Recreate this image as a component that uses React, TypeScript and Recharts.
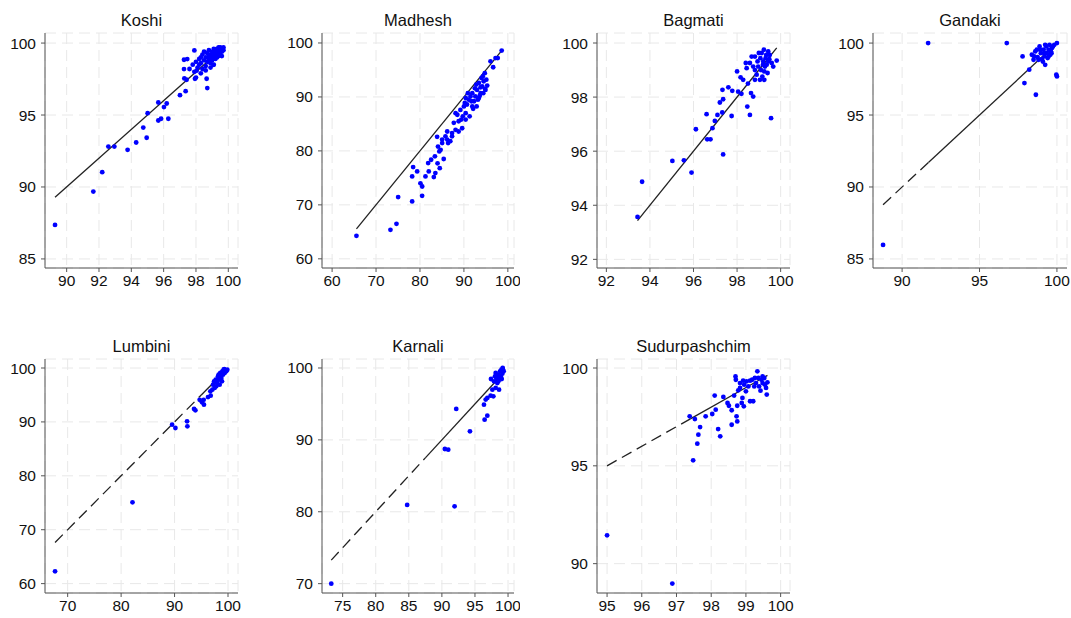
import React from "react";
import {
  ScatterChart,
  Scatter,
  XAxis,
  YAxis,
  CartesianGrid,
  ReferenceLine,
} from "recharts";

// [x, y] pairs
const koshi: number[][] = [
  [89.28, 87.36], [91.65, 89.68], [92.2, 91.03], [92.58, 92.81], [92.95, 92.81],
  [93.77, 92.58], [94.3, 93.09], [94.74, 94.13], [94.95, 93.42], [95.01, 95.13],
  [95.67, 95.87], [95.67, 94.62], [95.84, 94.74], [96.02, 95.55], [96.19, 95.8],
  [96.29, 94.74], [97.01, 96.38], [97.36, 96.66], [97.28, 97.54], [97.26, 98.19],
  [97.26, 98.84], [97.46, 98.89], [97.42, 97.45], [97.94, 97.52], [97.9, 99.49],
  [98.04, 98.08], [98.66, 97.52], [98.7, 96.87], [99.07, 98.49],
  [97.6, 98.2], [97.8, 98.5], [97.9, 98.0], [98.0, 98.7], [98.1, 98.3],
  [98.2, 98.9], [98.2, 98.5], [98.3, 99.0], [98.3, 98.6], [98.4, 98.2],
  [98.4, 99.2], [98.5, 98.8], [98.5, 99.4], [98.6, 98.4], [98.6, 99.0],
  [98.7, 98.7], [98.7, 99.3], [98.8, 99.1], [98.8, 98.9], [98.8, 99.5],
  [98.9, 98.6], [98.9, 99.2], [99.0, 99.0], [99.0, 99.4], [99.0, 98.8],
  [99.1, 99.3], [99.1, 99.6], [99.1, 99.1], [99.2, 98.9], [99.2, 99.2],
  [99.2, 99.5], [99.3, 99.3], [99.3, 99.0], [99.3, 99.6], [99.4, 99.4],
  [99.4, 99.1], [99.4, 99.7], [99.5, 99.5], [99.5, 99.2], [99.5, 99.7],
  [99.6, 99.4], [99.6, 99.6], [99.6, 99.1], [99.7, 99.5], [99.7, 99.7],
  [99.1, 98.5], [98.9, 98.3], [98.6, 98.1], [98.3, 97.9], [98.0, 97.6],
];

const madhesh: number[][] = [
  [65.54, 64.26], [73.28, 65.38], [74.65, 66.49], [75.03, 71.44], [78.22, 70.63],
  [78.22, 75.27], [78.44, 77.0], [79.35, 76.2], [80.49, 71.68], [80.1, 74.0],
  [80.5, 73.4], [81.25, 75.27], [82.0, 76.2], [81.86, 77.74], [82.54, 78.36],
  [83.15, 75.15], [83.5, 75.9], [83.4, 79.0], [84.0, 77.7], [84.1, 80.8],
  [83.9, 82.6], [84.5, 76.8], [84.7, 80.2], [85.05, 81.45], [85.4, 78.5],
  [85.8, 82.7], [86.2, 83.6], [86.4, 81.45], [86.9, 81.8], [87.3, 83.3],
  [87.7, 85.2], [88.1, 83.9], [88.5, 86.7], [88.8, 83.6], [88.8, 85.5],
  [89.2, 87.6], [89.6, 84.2], [89.75, 86.4], [90.0, 88.25], [90.4, 87.0],
  [90.4, 89.8], [90.7, 88.6], [91.1, 89.5], [91.3, 86.4], [91.5, 90.1],
  [91.9, 90.7], [91.9, 88.25], [92.3, 89.2], [92.5, 91.6], [92.6, 90.1],
  [92.9, 88.25], [93.0, 91.3], [93.4, 92.6], [93.4, 89.8], [93.8, 90.7],
  [94.0, 93.5], [94.15, 91.96], [94.4, 90.7], [94.5, 92.9], [94.75, 94.4],
  [94.9, 91.3], [95.1, 93.2], [96.66, 95.5], [96.05, 96.6], [97.2, 97.2],
  [97.7, 97.2], [98.6, 98.6], [88.1, 87.0], [90.2, 88.9], [90.9, 90.7],
  [91.7, 89.2], [92.8, 92.3], [93.2, 89.5], [93.8, 91.8], [94.3, 93.8],
  [90.4, 85.8], [89.4, 85.8], [87.3, 82.7], [86.2, 82.1], [85.05, 82.1],
  [84.4, 79.9], [95.3, 92.1], [94.8, 91.5], [93.6, 90.2], [92.1, 87.8],
];

const bagmati: number[][] = [
  [93.43, 93.57], [93.64, 94.87], [95.03, 95.64], [95.56, 95.66], [95.91, 95.21],
  [96.11, 96.81], [96.63, 96.44], [96.78, 96.44], [96.6, 97.37], [96.87, 96.85],
  [96.98, 97.12], [97.1, 97.34], [97.21, 97.8], [97.32, 97.43], [97.33, 98.27],
  [97.36, 97.92], [97.36, 95.88], [97.6, 98.36], [97.75, 97.3], [97.78, 98.23],
  [98.0, 98.95], [98.05, 98.2], [98.16, 98.73], [98.2, 98.12], [98.28, 98.64],
  [98.4, 99.26], [98.47, 97.65], [98.5, 98.5], [98.59, 97.34], [98.64, 98.15],
  [98.74, 98.02], [98.82, 99.5], [98.9, 98.83], [98.97, 99.13], [99.05, 98.64],
  [99.13, 99.63], [99.2, 99.32], [99.25, 98.95], [99.31, 99.44], [99.36, 99.2],
  [99.43, 99.69], [99.48, 99.4], [99.56, 97.22], [99.66, 99.13], [99.82, 99.35],
  [98.67, 99.5], [98.74, 99.13], [98.82, 98.64], [98.94, 99.32], [99.0, 99.63],
  [99.1, 99.0], [99.16, 98.76], [99.23, 99.75], [99.28, 99.13], [99.34, 99.56],
  [99.4, 98.89], [99.43, 99.32], [99.5, 99.56], [99.59, 99.26], [98.59, 99.26],
  [98.44, 99.07], [98.82, 99.0], [99.07, 99.44], [99.19, 99.2], [99.25, 98.64],
];

const gandaki: number[][] = [
  [88.77, 85.97], [91.68, 100], [96.76, 100], [97.78, 99.07], [98.21, 98.15],
  [97.9, 97.22], [98.64, 96.41], [99.96, 97.8], [100, 97.68], [99.24, 98.49],
  [100, 100], [98.38, 99.19], [98.49, 98.84], [98.6, 99.42], [98.75, 99.03],
  [98.88, 99.77], [98.96, 99.3], [99.03, 98.89], [99.14, 99.54], [99.2, 99.07],
  [99.31, 99.77], [99.35, 99.3], [99.46, 99.54], [99.52, 99.88], [99.61, 99.42],
  [99.68, 99.65], [99.74, 99.77], [99.83, 99.88], [98.81, 98.84], [99.09, 98.72],
  [99.4, 98.96], [99.57, 99.19], [98.53, 99.07], [98.7, 99.54], [99.24, 99.88],
  [99.46, 99.07], [98.92, 99.54], [99.65, 99.3], [99.18, 99.3],
];

const lumbini: number[][] = [
  [67.64, 62.29], [82.13, 75.08], [89.54, 89.49], [90.16, 88.87], [92.34, 90.1],
  [92.4, 89.18], [93.65, 92.4], [93.9, 92.15], [94.7, 94.1], [95.14, 93.63],
  [95.5, 93.2], [95.45, 94.1], [96.26, 94.6], [96.76, 94.87], [97.07, 95.98],
  [97.2, 96.9], [97.5, 96.3], [97.7, 97.84], [97.94, 97.22], [98.13, 98.45],
  [98.44, 96.9], [98.3, 97.84], [98.56, 99.07], [98.75, 98.15], [98.94, 99.38],
  [99.06, 98.76], [99.18, 99.69], [99.37, 99.07], [99.56, 99.57], [99.68, 99.38],
  [99.87, 99.69], [98.87, 97.53], [98.5, 98.3], [99.3, 99.8], [98.25, 98.76],
  [97.8, 96.6], [97.4, 97.53], [96.7, 95.67],
];

const karnali: number[][] = [
  [73.28, 70], [84.75, 80.95], [91.92, 80.76], [90.45, 88.73], [90.96, 88.64],
  [92.17, 94.3], [94.24, 91.19], [96.46, 92.81], [96.87, 93.37], [96.36, 94.9],
  [96.62, 95.6], [96.87, 95.83], [97.37, 96.15], [97.63, 96.98], [97.78, 96.06],
  [98.13, 97.22], [97.42, 98.47], [97.88, 98.15], [98.13, 99.3], [98.38, 97.91],
  [98.48, 99.07], [98.64, 98.6], [98.64, 96.98], [98.79, 99.54], [98.89, 98.84],
  [98.99, 99.77], [99.14, 99.21], [99.24, 99.77], [99.34, 99.54], [98.54, 98.15],
  [98.23, 98.6], [99.04, 98.47], [98.03, 98.84], [99.19, 100],
];

const sudurpashchim: number[][] = [
  [95.0, 91.45], [96.88, 88.98], [97.38, 97.53], [97.48, 95.28], [97.53, 97.39],
  [97.6, 96.13], [97.63, 96.59], [97.68, 96.98], [97.84, 97.53], [98.03, 97.65],
  [98.1, 98.59], [98.13, 97.87], [98.2, 96.88], [98.26, 96.51], [98.35, 98.52],
  [98.47, 98.21], [98.51, 98.07], [98.59, 97.84], [98.59, 97.1], [98.66, 98.59],
  [98.7, 99.57], [98.71, 99.4], [98.73, 97.53], [98.75, 97.27], [98.75, 98.07],
  [98.78, 98.86], [98.83, 98.98], [98.88, 98.21], [98.9, 98.47], [98.95, 99.15],
  [98.94, 98.04], [99.0, 98.81], [99.02, 99.32], [99.07, 99.06], [99.12, 98.3],
  [99.18, 99.4], [99.21, 98.3], [99.24, 99.06], [99.29, 99.23], [99.33, 99.83],
  [99.36, 99.49], [99.38, 99.06], [99.42, 98.84], [99.45, 99.4], [99.48, 99.23],
  [99.53, 99.49], [99.55, 99.15], [99.58, 98.98], [99.6, 98.64], [99.62, 99.27],
  [99.48, 99.57], [99.12, 99.35], [98.92, 99.35], [99.26, 99.49], [98.83, 99.23],
];

const FONT = "'Liberation Sans', Arial, sans-serif";
const YW = 45;
const XH = 32;
const MT = 4;
const MR = 6;

interface Panel {
  title: string;
  data: number[][];
  left: number;
  top: number;
  w: number;
  h: number;
  xDomain: [number, number];
  yDomain: [number, number];
  xTicks: number[];
  yTicks: number[];
  dashUntil?: number;
}

const panels: Panel[] = [
  { title: "Koshi", data: koshi, left: 45, top: 33, w: 193, h: 235,
    xDomain: [88.66, 100.6], yDomain: [84.37, 100.7],
    xTicks: [90, 92, 94, 96, 98, 100], yTicks: [85, 90, 95, 100] },
  { title: "Madhesh", data: madhesh, left: 322, top: 33, w: 192, h: 235,
    xDomain: [57.7, 101.4], yDomain: [58.3, 101.85],
    xTicks: [60, 70, 80, 90, 100], yTicks: [60, 70, 80, 90, 100] },
  { title: "Bagmati", data: bagmati, left: 597, top: 33, w: 193, h: 235,
    xDomain: [91.57, 100.43], yDomain: [91.68, 100.37],
    xTicks: [92, 94, 96, 98, 100], yTicks: [92, 94, 96, 98, 100] },
  { title: "Gandaki", data: gandaki, left: 873, top: 33, w: 194, h: 235,
    xDomain: [88.12, 100.65], yDomain: [84.37, 100.7],
    xTicks: [90, 95, 100], yTicks: [85, 90, 95, 100], dashUntil: 91.7 },
  { title: "Lumbini", data: lumbini, left: 45, top: 359, w: 193, h: 234,
    xDomain: [65.76, 101.87], yDomain: [58.26, 101.67],
    xTicks: [70, 80, 90, 100], yTicks: [60, 70, 80, 90, 100], dashUntil: 95 },
  { title: "Karnali", data: karnali, left: 322, top: 359, w: 192, h: 234,
    xDomain: [71.88, 100.9], yDomain: [68.7, 101.25],
    xTicks: [75, 80, 85, 90, 95, 100], yTicks: [70, 80, 90, 100], dashUntil: 87.5 },
  { title: "Sudurpashchim", data: sudurpashchim, left: 597, top: 359, w: 193, h: 234,
    xDomain: [94.71, 100.27], yDomain: [88.5, 100.46],
    xTicks: [95, 96, 97, 98, 99, 100], yTicks: [90, 95, 100], dashUntil: 97.4 },
];

const Dot = (props: any) => (
  <circle cx={props.cx} cy={props.cy} r={2.4} fill="#0000ff" />
);

function PanelChart({ p }: { p: Panel }) {
  const pts = p.data.map(([x, y]) => ({ x, y }));
  const xs = p.data.map((d) => d[0]);
  const lo = Math.min(...xs);
  const hi = Math.max(...xs);
  const split = p.dashUntil ?? lo;
  const tick = { fill: "#111", fontSize: 15.5, fontFamily: FONT };
  return (
    <div style={{ position: "absolute", left: p.left - YW, top: p.top - MT }}>
      <div
        style={{
          position: "absolute",
          left: YW,
          width: p.w,
          top: MT - 22,
          textAlign: "center",
          fontFamily: FONT,
          fontSize: 16.5,
          color: "#111",
        }}
      >
        {p.title}
      </div>
      <ScatterChart
        width={YW + p.w + MR}
        height={MT + p.h + XH}
        margin={{ top: MT, right: MR, left: 0, bottom: 0 }}
      >
        <CartesianGrid stroke="#e8e8e8" strokeDasharray="11 6" />
        <XAxis
          type="number"
          dataKey="x"
          domain={p.xDomain}
          ticks={p.xTicks}
          allowDataOverflow
          height={XH}
          tick={tick}
          tickSize={4}
          tickMargin={3}
          stroke="#555"
          interval={0}
        />
        <YAxis
          type="number"
          dataKey="y"
          domain={p.yDomain}
          ticks={p.yTicks}
          allowDataOverflow
          width={YW}
          tick={tick}
          tickSize={4}
          tickMargin={5}
          stroke="#555"
          interval={0}
        />
        {p.dashUntil !== undefined && (
          <ReferenceLine
            segment={[{ x: lo, y: lo }, { x: split, y: split }]}
            stroke="#222"
            strokeWidth={1.3}
            strokeDasharray="11 6"
          />
        )}
        <ReferenceLine
          segment={[{ x: split, y: split }, { x: hi, y: hi }]}
          stroke="#222"
          strokeWidth={1.3}
        />
        <Scatter data={pts} shape={<Dot />} isAnimationActive={false} />
      </ScatterChart>
    </div>
  );
}

export default function App() {
  return (
    <div
      style={{
        position: "absolute",
        left: 0,
        top: 0,
        width: 1071,
        height: 618,
        background: "#fff",
        overflow: "hidden",
      }}
    >
      {panels.map((p) => (
        <PanelChart key={p.title} p={p} />
      ))}
    </div>
  );
}
